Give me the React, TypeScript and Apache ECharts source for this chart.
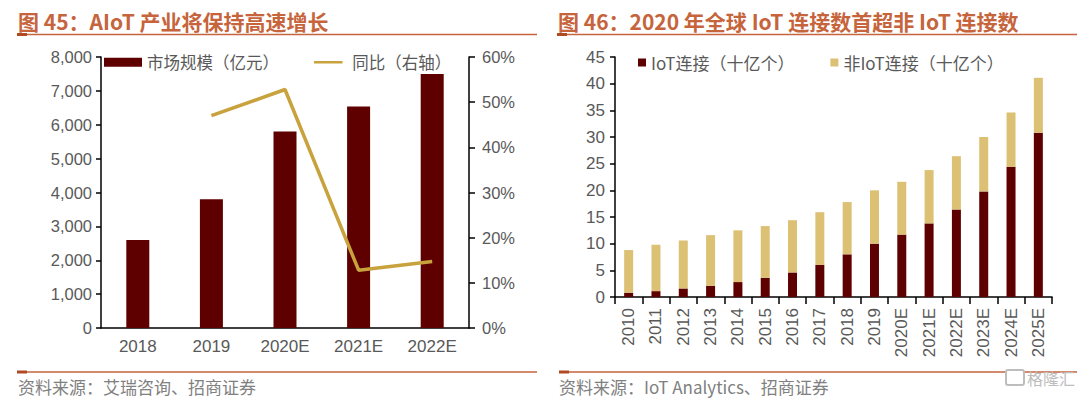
import React, { useEffect, useRef } from "react";
import * as echarts from "echarts";

const leftCategories = ["2018", "2019", "2020E", "2021E", "2022E"];
const marketSize = [2600, 3800, 5800, 6540, 7500];
const yoyGrowth = [null, 47.0, 52.8, 12.8, 14.7];

const rightCategories = [
  "2010", "2011", "2012", "2013", "2014", "2015", "2016", "2017", "2018", "2019",
  "2020E", "2021E", "2022E", "2023E", "2024E", "2025E",
];
const iotConnections = [0.8, 1.1, 1.6, 2.1, 2.8, 3.6, 4.6, 6.0, 8.0, 10.0, 11.7, 13.8, 16.4, 19.8, 24.4, 30.8];
const nonIotConnections = [8.0, 8.7, 9.0, 9.5, 9.7, 9.7, 9.8, 9.9, 9.8, 10.0, 9.9, 10.0, 10.0, 10.2, 10.2, 10.3];

const leftTitle = "图 45：AIoT 产业将保持高速增长";
const rightTitle = "图 46：2020 年全球 IoT 连接数首超非 IoT 连接数";
const leftSource = "资料来源：艾瑞咨询、招商证券";
const rightSource = "资料来源：IoT Analytics、招商证券";

const FONT = "'Liberation Sans', Arial, 'Noto Sans CJK SC', sans-serif";
const CJK = "'Noto Sans CJK SC', 'Liberation Sans', sans-serif";
const DARK = "#5e0000";
const GOLD = "#c8a23c";
const LIGHT = "#dcc174";
const TITLE = "#c6643c";
const LABEL = "#595959";

// thin bar inside a taller invisible bounding box, used as the line legend icon
const LINE_ICON = "path://M0,0h0.01v0.01h-0.01z M0,4.2h38v3.6h-38z M37.99,11.99h0.01v0.01h-0.01z";

export default function App() {
  const ref = useRef<HTMLDivElement>(null);

  useEffect(() => {
    document.body.style.margin = "0";
    if (!ref.current) return;
    const chart = echarts.init(ref.current, undefined, { renderer: "svg" });

    const axisLine = { show: true, lineStyle: { color: "#000", width: 1.5 } };
    const tick = { show: true, length: 5, lineStyle: { color: "#000", width: 1.5 } };

    const option: any = {
      animation: false,
      textStyle: { fontFamily: FONT },
      grid: [
        { left: 101, top: 57, width: 368, height: 271 },
        { left: 615, top: 57, width: 437, height: 240 },
      ],
      xAxis: [
        {
          type: "category",
          gridIndex: 0,
          data: leftCategories,
          axisLine,
          axisTick: { show: false },
          axisLabel: { color: LABEL, fontSize: 17, margin: 10, fontFamily: FONT },
        },
        {
          type: "category",
          gridIndex: 1,
          data: rightCategories,
          axisLine,
          axisTick: { show: true, length: 7, lineStyle: { color: "#000", width: 1.5 } },
          axisLabel: { color: LABEL, fontSize: 17, margin: 11, rotate: 90, fontFamily: FONT },
        },
      ],
      yAxis: [
        {
          type: "value",
          gridIndex: 0,
          min: 0,
          max: 8000,
          interval: 1000,
          axisLine,
          axisTick: tick,
          splitLine: { show: false },
          axisLabel: {
            color: LABEL,
            fontSize: 16.5,
            margin: 9,
            fontFamily: FONT,
            formatter: (v: number) => v.toLocaleString("en-US"),
          },
        },
        {
          type: "value",
          gridIndex: 0,
          position: "right",
          min: 0,
          max: 60,
          interval: 10,
          axisLine,
          axisTick: { ...tick, length: 6 },
          splitLine: { show: false },
          axisLabel: { color: LABEL, fontSize: 16.5, margin: 13, fontFamily: FONT, formatter: "{value}%" },
        },
        {
          type: "value",
          gridIndex: 1,
          min: 0,
          max: 45,
          interval: 5,
          axisLine,
          axisTick: tick,
          splitLine: { show: false },
          axisLabel: { color: LABEL, fontSize: 17, margin: 10, fontFamily: FONT },
        },
      ],
      legend: [
        {
          data: [
            { name: "市场规模（亿元）", icon: "rect" },
            { name: "同比（右轴）", icon: LINE_ICON, itemStyle: { color: GOLD } },
          ],
          left: 104,
          top: 54,
          padding: 0,
          itemWidth: 38,
          itemHeight: 9,
          itemGap: 35,
          textStyle: { color: LABEL, fontSize: 16.5, fontFamily: CJK },
        },
        {
          data: ["IoT连接（十亿个）", "非IoT连接（十亿个）"],
          left: 638,
          top: 54,
          padding: 0,
          itemWidth: 8,
          itemHeight: 8,
          itemGap: 36,
          icon: "rect",
          textStyle: { color: LABEL, fontSize: 17, fontFamily: CJK },
        },
      ],
      series: [
        {
          name: "市场规模（亿元）",
          type: "bar",
          xAxisIndex: 0,
          yAxisIndex: 0,
          data: marketSize,
          barWidth: 23,
          itemStyle: { color: DARK },
        },
        {
          name: "同比（右轴）",
          type: "line",
          xAxisIndex: 0,
          yAxisIndex: 1,
          data: yoyGrowth,
          symbol: "none",
          lineStyle: { color: GOLD, width: 3.5 },
          itemStyle: { color: GOLD },
        },
        {
          name: "IoT连接（十亿个）",
          type: "bar",
          stack: "conn",
          xAxisIndex: 1,
          yAxisIndex: 2,
          data: iotConnections,
          barWidth: 9,
          itemStyle: { color: DARK },
        },
        {
          name: "非IoT连接（十亿个）",
          type: "bar",
          stack: "conn",
          xAxisIndex: 1,
          yAxisIndex: 2,
          data: nonIotConnections,
          barWidth: 9,
          itemStyle: { color: LIGHT },
        },
      ],
      graphic: [
        {
          type: "text",
          x: 18,
          y: 21,
          style: { text: leftTitle, fill: TITLE, fontSize: 21, fontWeight: "bold", fontFamily: CJK, verticalAlign: "middle" },
        },
        {
          type: "text",
          x: 558,
          y: 21,
          style: { text: rightTitle, fill: TITLE, fontSize: 21, fontWeight: "bold", fontFamily: CJK, verticalAlign: "middle" },
        },
        { type: "line", shape: { x1: 17, y1: 34.5, x2: 537, y2: 34.5 }, style: { stroke: TITLE, lineWidth: 1.5 } },
        { type: "rect", shape: { x: 17, y: 33, width: 10, height: 3 }, style: { fill: "#b04a22" } },
        { type: "line", shape: { x1: 557, y1: 34.5, x2: 1077, y2: 34.5 }, style: { stroke: TITLE, lineWidth: 1.5 } },
        { type: "rect", shape: { x: 557, y: 33, width: 10, height: 3 }, style: { fill: "#b04a22" } },
        { type: "line", shape: { x1: 17, y1: 372, x2: 537, y2: 372 }, style: { stroke: TITLE, lineWidth: 1.5 } },
        { type: "rect", shape: { x: 17, y: 370.5, width: 10, height: 3 }, style: { fill: "#b04a22" } },
        { type: "line", shape: { x1: 559, y1: 372, x2: 1077, y2: 372 }, style: { stroke: TITLE, lineWidth: 1.5 } },
        { type: "rect", shape: { x: 559, y: 370.5, width: 10, height: 3 }, style: { fill: "#b04a22" } },
        {
          type: "text",
          x: 18,
          y: 386,
          style: { text: leftSource, fill: "#808080", fontSize: 17, fontFamily: CJK, verticalAlign: "middle" },
        },
        {
          type: "text",
          x: 559,
          y: 386,
          style: { text: rightSource, fill: "#808080", fontSize: 17, fontFamily: CJK, verticalAlign: "middle" },
        },
        {
          type: "rect",
          shape: { x: 1006, y: 370, width: 18, height: 15, r: 2 },
          style: { fill: "#fff", stroke: "#bdbdbd", lineWidth: 2 },
        },
        {
          type: "text",
          x: 1027,
          y: 378,
          style: { text: "格隆汇", fill: "#bdbdbd", fontSize: 16, fontFamily: CJK, verticalAlign: "middle" },
        },
      ],
    };

    chart.setOption(option);
    return () => chart.dispose();
  }, []);

  return <div ref={ref} style={{ width: 1080, height: 398 }} />;
}
